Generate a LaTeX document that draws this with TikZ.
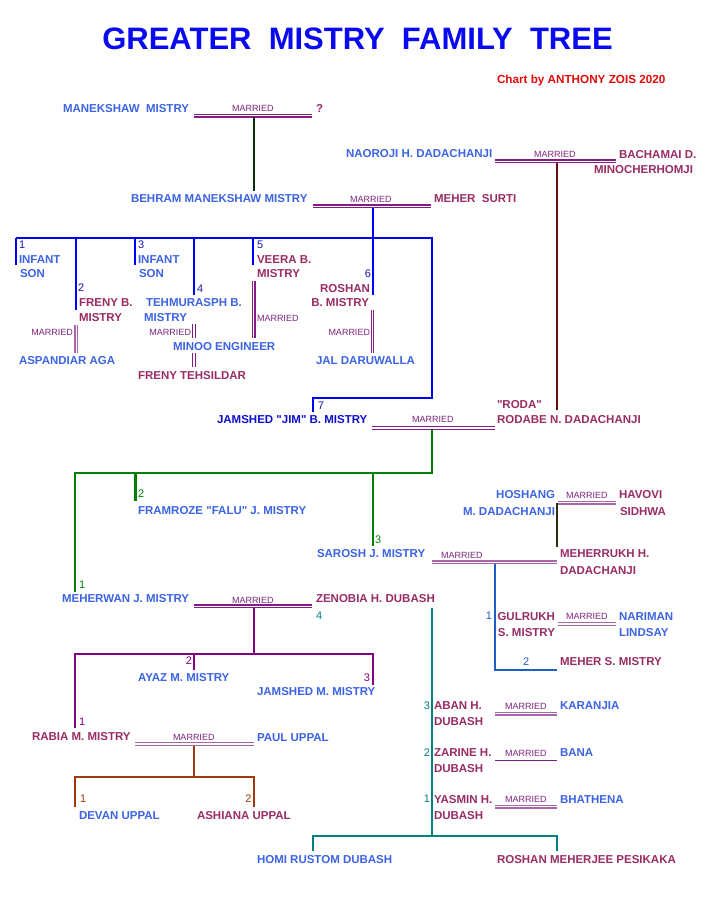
\documentclass[tikz,border=0pt]{standalone}
\usepackage{fontspec}
\setmainfont{Liberation Sans}[Ligatures=TeXOff]
\definecolor{nameblue}{RGB}{60,100,228}
\definecolor{namemaroon}{RGB}{153,45,100}
\definecolor{jimblue}{RGB}{15,15,205}
\definecolor{titleblue}{RGB}{10,10,240}
\definecolor{chartred}{RGB}{225,10,10}
\definecolor{martext}{RGB}{125,35,125}
\definecolor{marline}{RGB}{130,30,130}
\definecolor{marlight}{RGB}{170,100,170}
\definecolor{lblue}{RGB}{0,0,250}
\definecolor{numblue}{RGB}{25,25,170}
\definecolor{dkgreen}{RGB}{10,50,10}
\definecolor{dkred}{RGB}{100,15,15}
\definecolor{lgreen}{RGB}{0,128,0}
\definecolor{olive}{RGB}{45,45,15}
\definecolor{steel}{RGB}{30,95,195}
\definecolor{teal}{RGB}{0,128,128}
\definecolor{lpurple}{RGB}{128,0,128}
\definecolor{brownl}{RGB}{160,55,15}
\newcommand\wedH[3]{\draw[#1] ([yshift=1.3pt]#2) -- ([yshift=1.3pt]#3) ([yshift=-1.3pt]#2) -- ([yshift=-1.3pt]#3);}
\newcommand\wedV[3]{\draw[#1] ([xshift=1.3pt]#2) -- ([xshift=1.3pt]#3) ([xshift=-1.3pt]#2) -- ([xshift=-1.3pt]#3);}
\begin{document}
\begin{tikzpicture}[x=1pt,y=-1pt,
  every node/.style={inner sep=0pt,outer sep=0pt},
  nm/.style={anchor=west,font=\fontsize{11.5}{13}\selectfont\bfseries,text height=8.2pt,text depth=0pt},
  nb/.style={nm,text=nameblue},
  nr/.style={nm,text=namemaroon},
  nbE/.style={nb,anchor=east},
  nrE/.style={nr,anchor=east},
  mar/.style={anchor=west,font=\fontsize{9}{10}\selectfont,text=martext,text height=6.4pt,text depth=0pt},
  marE/.style={mar,anchor=east},
  num/.style={anchor=west,font=\fontsize{11}{12}\selectfont,text height=7.9pt,text depth=0pt},
  numE/.style={num,anchor=east},
  wed/.style={draw=marline,line width=1.3pt},
  wedl/.style={draw=marlight,line width=1.4pt},
  bline/.style={draw=lblue,line width=2pt},
  gline/.style={draw=lgreen,line width=2pt},
  pline/.style={draw=lpurple,line width=2pt},
  tline/.style={draw=teal,line width=2.5pt},
  rline/.style={draw=brownl,line width=2pt},
  sline/.style={draw=steel,line width=1.6pt}
]
\fill[white] (0,0) rectangle (710,915);
\useasboundingbox (0,0) rectangle (710,915);

% title
\node[font=\fontsize{31}{34}\selectfont\bfseries,text=titleblue,text height=22.2pt,text depth=0pt] (title) at (357.5,38) {GREATER\ \ MISTRY\ \ FAMILY\ \ TREE};
\node[anchor=west,font=\fontsize{11.7}{13}\selectfont\bfseries,text=chartred,text height=8.4pt,text depth=0pt] (chart) at (497,79) {Chart by ANTHONY ZOIS 2020};

% Manekshaw
\node[nb] (manek) at (63,108) {MANEKSHAW\ \ MISTRY};
\node[mar] (mar1) at (232,108.8) {MARRIED};
\node[nr] (q) at (316,108) {?};
\coordinate (w1a) at (194,115.8); \coordinate (w1b) at (312,115.8);
\wedH{wed}{w1a}{w1b}
\coordinate (c1a) at (254,117); \coordinate (c1b) at (254,191);
\draw[draw=dkgreen,line width=1.6pt] (c1a) -- (c1b);

% Behram
\node[nb] (behram) at (131,198) {BEHRAM MANEKSHAW MISTRY};
\node[mar] (mar2) at (350,199) {MARRIED};
\node[nr] (meher) at (434,198) {MEHER\ \ SURTI};
\coordinate (w2a) at (313,206.2); \coordinate (w2b) at (431,206.2);
\wedH{wed}{w2a}{w2b}
\coordinate (b0) at (373,207.5); \coordinate (b6) at (373,295);
\draw[bline] (b0) -- (b6);
\coordinate (bl) at (16,237.5); \coordinate (br) at (432,237.5);
\coordinate (brd) at (432,398); \coordinate (bjl) at (313,398); \coordinate (bj) at (313,411.5);
\draw[bline] (bl) -- (br) -- (brd) -- (bjl) -- (bj);
\coordinate (b1) at (16,265); \coordinate (b1t) at (16,237.5);
\coordinate (b2t) at (75.7,237.5); \coordinate (b2) at (75.7,310);
\coordinate (b3t) at (135,237.5); \coordinate (b3) at (135,265);
\coordinate (b4t) at (194.3,237.5); \coordinate (b4) at (194.3,295);
\coordinate (b5t) at (253.3,237.5); \coordinate (b5) at (253.3,265);
\draw[bline] (b1t) -- (b1);
\draw[bline] (b2t) -- (b2);
\draw[bline] (b3t) -- (b3);
\draw[bline] (b4t) -- (b4);
\draw[bline] (b5t) -- (b5);

\node[num,text=numblue] (n1) at (19,245) {1};
\node[nb] (inf1a) at (19,259) {INFANT};
\node[nb] (inf1b) at (20,273.7) {SON};
\node[num,text=numblue] (n2) at (78,288) {2};
\node[nr] (freny1) at (79,302) {FRENY B.};
\node[nr] (freny2) at (79,317) {MISTRY};
\node[marE] (mar3) at (73,332) {MARRIED};
\coordinate (v1a) at (76.3,325); \coordinate (v1b) at (76.3,353);
\wedV{wedl}{v1a}{v1b}
\node[nb] (aspa) at (19,360) {ASPANDIAR AGA};

\node[num,text=numblue] (n3) at (138,245) {3};
\node[nb] (inf3a) at (138,259) {INFANT};
\node[nb] (inf3b) at (139,273.7) {SON};
\node[num,text=numblue] (n4) at (197,289) {4};
\node[nb] (teh1) at (146,302) {TEHMURASPH B.};
\node[nb] (teh2) at (144,317) {MISTRY};
\node[marE] (mar4) at (191,332) {MARRIED};
\coordinate (v2a) at (194,324); \coordinate (v2b) at (194,338);
\wedV{wed}{v2a}{v2b}
\node[nb] (minoo) at (173,346.5) {MINOO ENGINEER};
\coordinate (v3a) at (194,353); \coordinate (v3b) at (194,367);
\wedV{wed}{v3a}{v3b}
\node[nr] (frenyt) at (138,375) {FRENY TEHSILDAR};

\node[num,text=numblue] (n5) at (257,245) {5};
\node[nr] (veera1) at (257,259) {VEERA B.};
\node[nr] (veera2) at (257,273.7) {MISTRY};
\coordinate (v4a) at (253.7,281); \coordinate (v4b) at (253.7,338);
\wedV{wed}{v4a}{v4b}
\node[mar] (mar5) at (257,318) {MARRIED};

\node[numE,text=numblue] (n6) at (371,273.3) {6};
\node[nrE] (rosh1) at (370,288) {ROSHAN};
\node[nrE] (rosh2) at (369,302) {B. MISTRY};
\coordinate (v5a) at (372.5,310); \coordinate (v5b) at (372.5,353);
\wedV{wed}{v5a}{v5b}
\node[marE] (mar6) at (370,332) {MARRIED};
\node[nb] (jal) at (316,360) {JAL DARUWALLA};

% Naoroji
\node[nb] (naoroji) at (346,153.5) {NAOROJI H. DADACHANJI};
\node[mar] (mar7) at (534,154.5) {MARRIED};
\coordinate (w3a) at (495,161.4); \coordinate (w3b) at (616,161.4);
\wedH{wed}{w3a}{w3b}
\node[nr] (bach1) at (619,154) {BACHAMAI D.};
\node[nr] (bach2) at (594,169.5) {MINOCHERHOMJI};
\coordinate (c3a) at (557,162.8); \coordinate (c3b) at (557,410);
\draw[draw=dkred,line width=2pt] (c3a) -- (c3b);

% Jamshed
\node[numE,text=numblue] (n7) at (324,405.5) {7};
\node[nm,text=jimblue] (jim) at (217,419.3) {JAMSHED "JIM" B. MISTRY};
\coordinate (w4a) at (372,428); \coordinate (w4b) at (495,428);
\wedH{wed}{w4a}{w4b}
\node[mar] (mar8) at (412,419.7) {MARRIED};
\node[nr] (roda1) at (497,404.5) {"RODA"};
\node[nr] (roda2) at (497,419.3) {RODABE N. DADACHANJI};
\coordinate (g0) at (432,429.3); \coordinate (gr) at (432,473);
\coordinate (gl) at (75,473); \coordinate (g1) at (75,591.5);
\draw[gline] (g0) -- (gr) -- (gl) -- (g1);
\coordinate (g2t) at (135,473); \coordinate (g2) at (135,501);
\draw[draw=lgreen,line width=3pt] (g2t) -- (g2);
\coordinate (g3t) at (373,473); \coordinate (g3) at (373,546);
\draw[gline] (g3t) -- (g3);
\node[num,text=lgreen] (gn2) at (138,494) {2};
\node[nb] (falu) at (138,510.7) {FRAMROZE "FALU" J. MISTRY};
\node[num,text=lgreen] (gn3) at (375,539.5) {3};
\node[nb] (sarosh) at (317,553) {SAROSH J. MISTRY};
\node[num,text=lgreen] (gn1) at (79,584.3) {1};
\node[nb] (meherwan) at (62,598.7) {MEHERWAN J. MISTRY};

% Hoshang
\node[nbE] (hosh1) at (555,494.5) {HOSHANG};
\node[nbE] (hosh2) at (555,511) {M. DADACHANJI};
\coordinate (w5a) at (558,502.7); \coordinate (w5b) at (616,502.7);
\wedH{wedl}{w5a}{w5b}
\node[mar] (mar9) at (566,495) {MARRIED};
\node[nr] (hav1) at (619,494.5) {HAVOVI};
\node[nr] (hav2) at (620,511) {SIDHWA};
\coordinate (c5a) at (557,503); \coordinate (c5b) at (557,547);
\draw[draw=olive,line width=1.6pt] (c5a) -- (c5b);

% Sarosh
\coordinate (w6a) at (432,562.3); \coordinate (w6b) at (557,562.3);
\wedH{wedl}{w6a}{w6b}
\node[mar] (mar10) at (441,555.5) {MARRIED};
\node[nr] (mehr1) at (560,553.5) {MEHERRUKH H.};
\node[nr] (mehr2) at (560,570) {DADACHANJI};
\coordinate (s0) at (495,564); \coordinate (s1) at (495,670); \coordinate (s2) at (557,670);
\draw[sline] (s0) -- (s1) -- (s2);
\node[numE,text=steel] (sn1) at (492,616) {1};
\node[nrE] (gul1) at (555,616) {GULRUKH};
\node[nrE] (gul2) at (555,632.3) {S. MISTRY};
\coordinate (w7a) at (558,624); \coordinate (w7b) at (616,624);
\wedH{wedl}{w7a}{w7b}
\node[mar] (mar11) at (566,616.7) {MARRIED};
\node[nb] (nar1) at (619,616) {NARIMAN};
\node[nb] (nar2) at (619,632.3) {LINDSAY};
\node[num,text=steel] (sn2) at (523,661.3) {2};
\node[nr] (mehers) at (560,661) {MEHER S. MISTRY};

% Meherwan / Zenobia
\coordinate (w8a) at (194,606.3); \coordinate (w8b) at (312,606.3);
\wedH{wed}{w8a}{w8b}
\node[mar] (mar12) at (232,600) {MARRIED};
\node[nr] (zenobia) at (316,598.7) {ZENOBIA H. DUBASH};
\node[num,text=teal] (tn4) at (316,616) {4};
\coordinate (t0) at (432,607.5); \coordinate (t1) at (432,836);
\draw[tline] (t0) -- (t1);
\coordinate (tl) at (313,851); \coordinate (tlt) at (313,836);
\coordinate (trt) at (557,836); \coordinate (tr) at (557,851);
\draw[tline] (tl) -- (tlt) -- (trt) -- (tr);
\coordinate (p0) at (254,607.5); \coordinate (pm) at (254,654);
\draw[pline] (p0) -- (pm);
\coordinate (p1) at (75,728); \coordinate (p1t) at (75,654);
\coordinate (p3t) at (373,654); \coordinate (p3) at (373,684.5);
\draw[pline] (p1) -- (p1t) -- (p3t) -- (p3);
\coordinate (p2t) at (194,654); \coordinate (p2) at (194,670);
\draw[pline] (p2t) -- (p2);
\node[numE,text=lpurple] (pn2) at (192,661) {2};
\node[nb] (ayaz) at (138,677.3) {AYAZ M. MISTRY};
\node[numE,text=lpurple] (pn3) at (370,677.7) {3};
\node[nb] (jamm) at (257,691.7) {JAMSHED M. MISTRY};
\node[num,text=lpurple] (pn1) at (79,722) {1};
\node[nr] (rabia) at (32,736.7) {RABIA M. MISTRY};
\coordinate (w9a) at (135,744); \coordinate (w9b) at (254,744);
\wedH{wedl}{w9a}{w9b}
\node[mar] (mar13) at (173,737.7) {MARRIED};
\node[nb] (paul) at (257,737) {PAUL UPPAL};
\coordinate (r0) at (194,745.5); \coordinate (rm) at (194,777);
\draw[rline] (r0) -- (rm);
\coordinate (r1) at (75,807); \coordinate (r1t) at (75,777);
\coordinate (r2t) at (254,777); \coordinate (r2) at (254,807);
\draw[rline] (r1) -- (r1t) -- (r2t) -- (r2);
\node[num,text=brownl] (rn1) at (80,798.3) {1};
\node[nb] (devan) at (79,815) {DEVAN UPPAL};
\node[numE,text=brownl] (rn2) at (251.5,798.3) {2};
\node[nr] (ashiana) at (197,815) {ASHIANA UPPAL};

% Dubash children
\node[numE,text=teal] (dn3) at (430,705.3) {3};
\node[nr] (aban1) at (434,705.3) {ABAN H.};
\node[nr] (aban2) at (434,721.7) {DUBASH};
\coordinate (w10a) at (495,713.5); \coordinate (w10b) at (556.7,713.5);
\wedH{wedl}{w10a}{w10b}
\node[mar] (mar14) at (505,706) {MARRIED};
\node[nb] (kar) at (560,705.3) {KARANJIA};

\node[numE,text=teal] (dn2) at (430,752.7) {2};
\node[nr] (zar1) at (434,752.7) {ZARINE H.};
\node[nr] (zar2) at (434,768.3) {DUBASH};
\coordinate (w11a) at (495,760.5); \coordinate (w11b) at (556.7,760.5);
\draw[draw=marline,line width=1.8pt] (w11a) -- (w11b);
\node[mar] (mar15) at (505,753) {MARRIED};
\node[nb] (bana) at (560,752.7) {BANA};

\node[numE,text=teal] (dn1) at (430,799) {1};
\node[nr] (yas1) at (434,799) {YASMIN H.};
\node[nr] (yas2) at (434,815) {DUBASH};
\coordinate (w12a) at (495,806.5); \coordinate (w12b) at (556.7,806.5);
\wedH{wedl}{w12a}{w12b}
\node[mar] (mar16) at (505,799.7) {MARRIED};
\node[nb] (bhat) at (560,799) {BHATHENA};

% bottom
\node[nb] (homi) at (257,859.3) {HOMI RUSTOM DUBASH};
\node[nr] (pesi) at (497,859) {ROSHAN MEHERJEE PESIKAKA};
\end{tikzpicture}
\end{document}
